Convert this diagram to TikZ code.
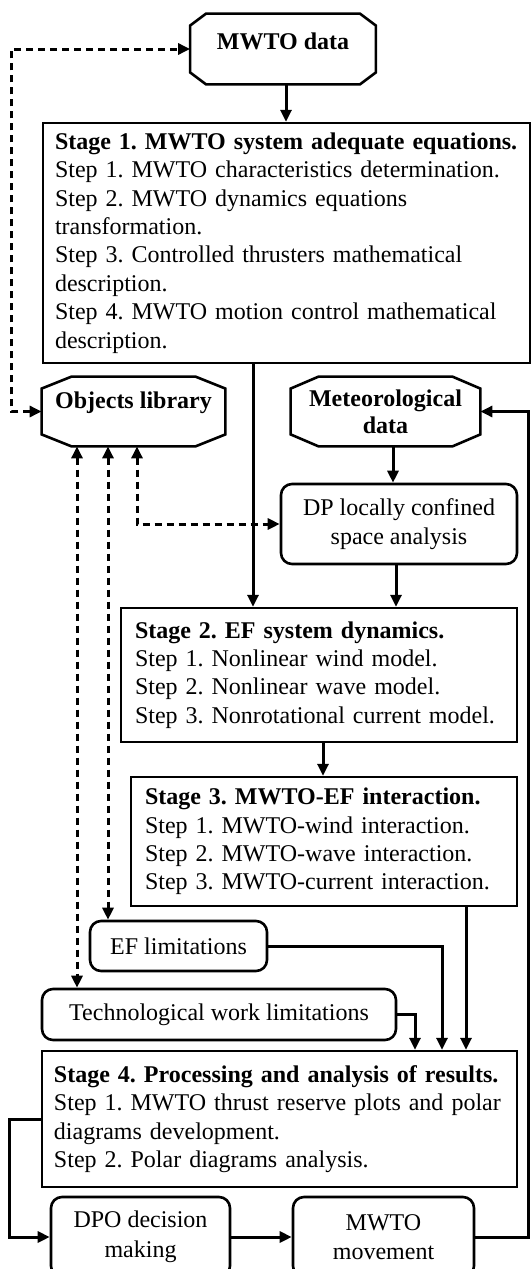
\documentclass[tikz,border=0pt]{standalone}
\usepackage{fontspec}
\setmainfont{Liberation Serif}
\frenchspacing
\usetikzlibrary{arrows.meta}

\tikzset{
    stagebox/.style = {draw, line width=1.2pt, rectangle, align=left, inner xsep=6pt,
                       font=\fontsize{12}{14.2}\selectfont},
    roundbox/.style = {draw, line width=1.3pt, rectangle, rounded corners=5.5pt, align=center,
                       font=\fontsize{12}{14.8}\selectfont},
    databox/.style  = {rectangle, align=center, font=\bfseries\fontsize{12}{13.6}\selectfont},
    link/.style     = {line width=1.5pt, -{Triangle[length=6pt, width=5.5pt]}},
    dlink/.style    = {line width=1.5pt, dash pattern=on 3.5pt off 2.5pt,
                       {Triangle[length=6pt, width=5.5pt]}-{Triangle[length=6pt, width=5.5pt]}},
}

\newcommand{\octframe}[2]{%
    \draw [line width=1.3pt]
        ([xshift=#2]#1.north west) -- ([xshift=-#2]#1.north east) --
        ([yshift=-6pt]#1.north east) -- ([yshift=6pt]#1.south east) --
        ([xshift=-#2]#1.south east) -- ([xshift=#2]#1.south west) --
        ([yshift=6pt]#1.south west) -- ([yshift=-6pt]#1.north west) -- cycle;}

\begin{document}
\begin{tikzpicture}[x=0.5pt, y=-0.5pt]
    \useasboundingbox (0,0) rectangle (531,1269);

    \node [databox, minimum width=92.5pt, minimum height=35pt]   (mwto)   at (283,  49  ) {\raisebox{8pt}{MWTO data}};
    \node [databox, minimum width=91.5pt, minimum height=34.5pt] (objlib) at (133.5,411.5) {\raisebox{11pt}{Objects library}};
    \node [databox, minimum width=94.5pt, minimum height=34.5pt] (meteo)  at (385.5,411.5) {Meteorological\\data};
    \octframe{mwto}{8pt}
    \octframe{objlib}{15pt}
    \octframe{meteo}{14pt}

    \node [stagebox, text width=231.5pt, minimum height=120pt] (stage1) at (286.5,243) {%
        \textbf{Stage 1. MWTO system adequate equations.}\\
        Step 1. MWTO characteristics determination.\\
        Step 2. MWTO dynamics equations\\
        transformation.\\
        Step 3. Controlled thrusters mathematical\\
        description.\\
        Step 4. MWTO motion control mathematical\\
        description.};
    \node [stagebox, text width=184pt, inner xsep=7pt, minimum height=67pt] (stage2) at (319,675) {%
        \textbf{Stage 2. EF system dynamics.}\\
        Step 1. Nonlinear wind model.\\
        Step 2. Nonlinear wave model.\\
        Step 3. Nonrotational current model.};
    \node [stagebox, text width=179pt, inner xsep=7pt, minimum height=64.5pt] (stage3) at (324,841.5) {%
        \textbf{Stage 3. MWTO-EF interaction.}\\
        Step 1. MWTO-wind interaction.\\
        Step 2. MWTO-wave interaction.\\
        Step 3. MWTO-current interaction.};
    \node [stagebox, text width=225.5pt, minimum height=68pt] (stage4) at (279.5,1119) {%
        \textbf{Stage 4. Processing and analysis of results.}\\
        Step 1. MWTO thrust reserve plots and polar\\
        diagrams development.\\
        Step 2. Polar diagrams analysis.};

    \node [roundbox, minimum width=118pt,  minimum height=40pt]   (dp)      at (399,  524   ) {DP locally confined\\space analysis};
    \node [roundbox, minimum width=88.5pt, minimum height=25pt]   (ef)      at (178.5,946   ) {EF limitations};
    \node [roundbox, minimum width=177pt,  minimum height=25.5pt] (tech)    at (219,  1014.5) {Technological work limitations};
    \node [roundbox, minimum width=89.5pt, minimum height=40pt]   (dpo)     at (140.5,1237  ) {DPO decision\\making};
    \node [roundbox, minimum width=90.5pt, minimum height=40pt]   (mwtomov) at (383.5,1237  ) {MWTO\\movement};

    \draw [link]  (mwto.south   -| 286,0) -- (stage1.north -| 286,0);
    \draw [link]  (stage1.south -| 253,0) -- (stage2.north -| 253,0);
    \draw [link]  (meteo.south  -| 393,0) -- (dp.north     -| 393,0);
    \draw [link]  (dp.south     -| 396,0) -- (stage2.north -| 396,0);
    \draw [link]  (stage2.south -| 323,0) -- (stage3.north -| 323,0);
    \draw [link]  (stage3.south -| 466,0) -- (stage4.north -| 466,0);
    \draw [link]  (ef.east)   -| (stage4.north -| 442,0);
    \draw [link]  (tech.east) -| (stage4.north -| 415,0);
    \draw [link]  (stage4.west)  -- ++(-31,0) |- (dpo.west);
    \draw [link]  (dpo)          -- (mwtomov);
    \draw [link]  (mwtomov.east) -- ++(53,0)  |- (meteo.east);

    \draw [dlink] (objlib.west) -- ++(-30,0) |- (mwto.west);
    \draw [dlink] (objlib.south -| 137,0) |- (dp.west);
    \draw [dlink] (objlib.south -| 108,0) -- (ef.north   -| 108,0);
    \draw [dlink] (objlib.south -| 77,0)  -- (tech.north -| 77,0);
\end{tikzpicture}
\end{document}
